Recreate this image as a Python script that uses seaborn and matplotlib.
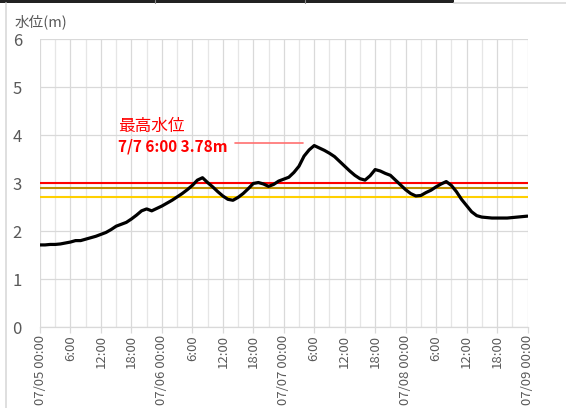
import numpy as np
import pandas as pd
import matplotlib
matplotlib.use("Agg")
import matplotlib.pyplot as plt
import matplotlib.dates as mdates
from matplotlib.ticker import FuncFormatter
from matplotlib.lines import Line2D
from matplotlib.patches import Rectangle
import seaborn as sns

# Hourly water level (m), 07/05 00:00 - 07/09 00:00
start = "2020-07-05 00:00"
levels = [
    1.71, 1.71, 1.72, 1.72, 1.73, 1.75, 1.77, 1.80, 1.80, 1.83, 1.86, 1.89,
    1.93, 1.97, 2.03, 2.10, 2.14, 2.18, 2.25, 2.33, 2.42, 2.46, 2.42, 2.47,
    2.52, 2.58, 2.64, 2.71, 2.78, 2.86, 2.95, 3.06, 3.11, 3.01, 2.92, 2.82,
    2.73, 2.66, 2.64, 2.70, 2.78, 2.88, 2.99, 3.01, 2.98, 2.93, 2.97, 3.04,
    3.08, 3.12, 3.22, 3.35, 3.56, 3.69, 3.78, 3.73, 3.68, 3.62, 3.55, 3.45,
    3.35, 3.25, 3.16, 3.09, 3.06, 3.15, 3.28, 3.25, 3.20, 3.16, 3.06, 2.96,
    2.86, 2.78, 2.73, 2.74, 2.80, 2.85, 2.92, 2.98, 3.03, 2.95, 2.82, 2.66,
    2.53, 2.40, 2.32, 2.29, 2.28, 2.27, 2.27, 2.27, 2.27, 2.28, 2.29, 2.30,
    2.31,
]

# Reference levels (m) and their line colours
threshold_levels = [3.0, 2.9, 2.7]
threshold_colors = ["#FF0000", "#BF9000", "#FFD000"]

y_ticks = [0, 1, 2, 3, 4, 5, 6]
y_label = "水位(m)"
peak_title = "最高水位"

times = pd.date_range(start, periods=len(levels), freq="h")
df = pd.DataFrame({"time": times, "level": levels})

sns.set_theme(style="white")
plt.rcParams["font.family"] = ["Noto Sans CJK JP", "DejaVu Sans"]

fig = plt.figure(figsize=(5.66, 4.08), dpi=100)
ax = fig.add_axes([40 / 566, 1 - 327 / 408, 487.5 / 566, 288 / 408])

grid_major = "#D9D9D9"
grid_minor = "#E6E6E6"
text_gray = "#595959"

for lvl, col in zip(threshold_levels, threshold_colors):
    ax.axhline(lvl, color=col, linewidth=1.5, zorder=3)

sns.lineplot(data=df, x="time", y="level", color="black", linewidth=2.3,
             ax=ax, zorder=4, solid_joinstyle="round", solid_capstyle="round")

x0, x1 = times[0], times[-1]
ax.set_xlim(x0, x1)
ax.set_ylim(y_ticks[0], y_ticks[-1])
ax.set_yticks(y_ticks)
ax.set_xlabel("")
ax.set_ylabel("")

ax.xaxis.set_major_locator(mdates.HourLocator(byhour=[0, 6, 12, 18]))
ax.xaxis.set_minor_locator(mdates.HourLocator(byhour=[3, 9, 15, 21]))


def fmt_time(x, pos=None):
    d = mdates.num2date(x)
    if d.hour == 0:
        return d.strftime("%m/%d %H:%M")
    return f"{d.hour}:{d.minute:02d}"


ax.xaxis.set_major_formatter(FuncFormatter(fmt_time))
ax.grid(True, which="major", axis="both", color=grid_major, linewidth=0.9, zorder=0)
ax.grid(True, which="minor", axis="x", color=grid_minor, linewidth=0.9, zorder=0)
ax.set_axisbelow(True)

for side in ["top", "right", "left"]:
    ax.spines[side].set_visible(False)
ax.spines["bottom"].set_color(grid_major)
ax.spines["bottom"].set_linewidth(0.9)

ax.tick_params(axis="x", which="major", length=4, width=0.9, color=grid_major,
               labelsize=9.5, labelcolor=text_gray, rotation=90, pad=2, bottom=True)
ax.tick_params(axis="x", which="minor", length=0)
ax.tick_params(axis="y", length=0, labelsize=12, labelcolor=text_gray, pad=13)

# Peak annotation
imax = int(np.argmax(levels))
peak_t = times[imax]
peak_v = levels[imax]
label = f"{peak_t.month}/{peak_t.day} {peak_t.hour}:{peak_t.minute:02d} {peak_v:.2f}m"
ax.text(times[0] + pd.Timedelta(hours=15.4), 4.17, peak_title, color="#FF0000",
        fontsize=12, ha="left", va="center", zorder=5)
ax.text(times[0] + pd.Timedelta(hours=15.4), 3.75, label, color="#FF0000",
        fontsize=11, fontweight="bold", ha="left", va="center", zorder=5)
ax.plot([times[0] + pd.Timedelta(hours=38.4), times[0] + pd.Timedelta(hours=51.8)],
        [3.83, 3.83], color="#FF7070", linewidth=1.2, zorder=5)

fig.text(15 / 566, 1 - 22 / 408, y_label, color=text_gray, fontsize=10.5,
         ha="left", va="center")

# Frame edges around the chart area
fig.add_artist(Rectangle((0, 1 - 2.5 / 408), 454 / 566, 2.5 / 408,
                         transform=fig.transFigure, facecolor="#222222",
                         edgecolor="none"))
for xv in [155, 305]:
    fig.add_artist(Line2D([xv / 566, xv / 566], [1 - 2.5 / 408, 1],
                          transform=fig.transFigure, color="#888888", linewidth=0.8))
fig.add_artist(Line2D([454 / 566, 1], [1 - 3 / 408, 1 - 3 / 408],
                      transform=fig.transFigure, color="#D9D9D9", linewidth=1.2))
fig.add_artist(Line2D([6 / 566, 6 / 566], [0, 1 - 3 / 408],
                      transform=fig.transFigure, color="#D9D9D9", linewidth=1.2))

fig.savefig("out.png", dpi=100)
